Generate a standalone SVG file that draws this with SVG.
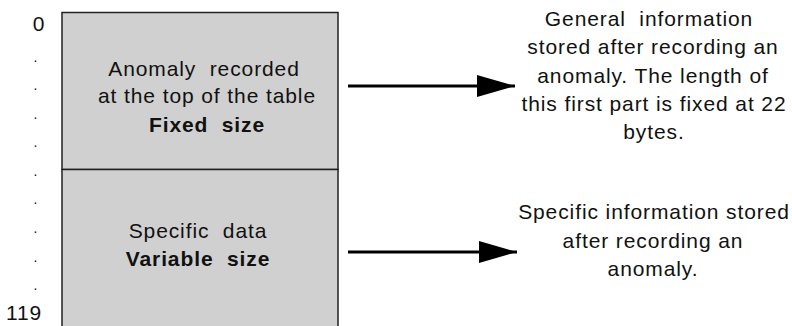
<svg xmlns="http://www.w3.org/2000/svg" width="792" height="326" viewBox="0 0 792 326">
<defs>
<style>
text{font-family:"Liberation Sans",Arial,sans-serif;font-size:21px;fill:#111;letter-spacing:0.9px}
.c{text-anchor:middle}
.b{font-weight:bold}
.box{fill:#d0d0d0;stroke:#222;stroke-width:1.5}
.conn{stroke:#000;stroke-width:3;fill:none}
.dot{font-size:14px}
</style>
<marker id="ah" markerUnits="userSpaceOnUse" markerWidth="40" markerHeight="24" refX="38" refY="11" orient="auto">
<path d="M0,0 L38,11 L0,22 Z" fill="#000"/>
</marker>
</defs>
<rect width="792" height="326" fill="#fff"/>
<g id="scale">
<text x="39" y="31" class="c">0</text>
<text x="36" y="62" class="c dot">.</text>
<text x="36" y="90" class="c dot">.</text>
<text x="36" y="119" class="c dot">.</text>
<text x="36" y="147" class="c dot">.</text>
<text x="36" y="176" class="c dot">.</text>
<text x="36" y="204" class="c dot">.</text>
<text x="36" y="233" class="c dot">.</text>
<text x="36" y="262" class="c dot">.</text>
<text x="36" y="290" class="c dot">.</text>
<text x="24" y="320" class="c">119</text>
</g>
<g id="fixed">
<rect class="box" x="62" y="12.5" width="276" height="157"/>
<text x="204" y="76" class="c" xml:space="preserve">Anomaly  recorded</text>
<text x="207" y="103" class="c">at the top of the table</text>
<text x="207" y="132" class="c b" xml:space="preserve">Fixed  size</text>
</g>
<g id="variable">
<rect class="box" x="62" y="169.5" width="276" height="170"/>
<text x="198" y="238" class="c" xml:space="preserve">Specific  data</text>
<text x="198" y="266" class="c b" xml:space="preserve">Variable  size</text>
</g>
<g id="connectors">
<line class="conn" x1="348" y1="86" x2="515" y2="86" marker-end="url(#ah)"/>
<line class="conn" x1="348" y1="252" x2="517" y2="252" marker-end="url(#ah)"/>
</g>
<g id="general-info">
<text x="649" y="26" class="c" xml:space="preserve">General  information</text>
<text x="653" y="54" class="c">stored after recording an</text>
<text x="653" y="83" class="c">anomaly. The length of</text>
<text x="654" y="111" class="c">this first part is fixed at 22</text>
<text x="654" y="139" class="c">bytes.</text>
</g>
<g id="specific-info">
<text x="654" y="219" class="c">Specific information stored</text>
<text x="653" y="248" class="c">after recording an</text>
<text x="653" y="276" class="c">anomaly.</text>
</g>
</svg>
